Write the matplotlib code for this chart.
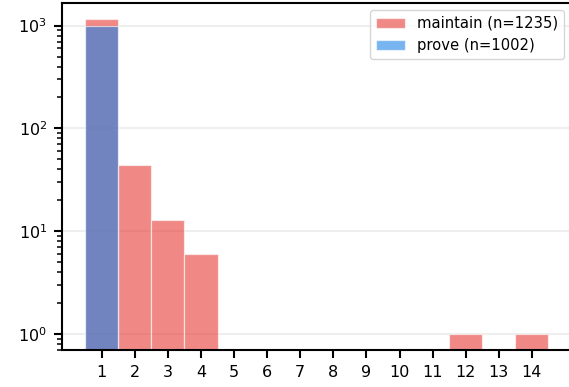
import matplotlib
matplotlib.use("Agg")
import matplotlib.pyplot as plt
import numpy as np

# data
bins_x = [1, 2, 3, 4, 5, 6, 7, 8, 9, 10, 11, 12, 13, 14]
maintain_counts = [1170, 44, 13, 6, 0, 0, 0, 0, 0, 0, 0, 1, 0, 1]
prove_counts = [1002, 0, 0, 0, 0, 0, 0, 0, 0, 0, 0, 0, 0, 0]
maintain_label = "maintain (n=1235)"
prove_label = "prove (n=1002)"

W, H = 569, 387
fig = plt.figure(figsize=(W / 100, H / 100), dpi=100)
ax = fig.add_axes([62 / W, (H - 350) / H, (571.6 - 62) / W, (350 - 3) / H])

edges = np.arange(0.5, 15.5, 1.0)
ax.hist(bins_x, bins=edges, weights=maintain_counts, color="#E63B35", alpha=0.6,
        edgecolor="white", linewidth=0.9, label=maintain_label)
ax.hist(bins_x, bins=edges, weights=prove_counts, color="#1E82E6", alpha=0.6,
        edgecolor="white", linewidth=0.9, label=prove_label)

ax.set_yscale("log")
ax.set_ylim(0.70, 1660)
ax.set_xlim(-0.2, 15.2)
ax.set_xticks(bins_x)
ax.set_xticklabels([str(b) for b in bins_x])

ax.grid(axis="y", which="major", color="#ebebeb", linewidth=1.2)
ax.set_axisbelow(True)
for s in ["left", "bottom", "top"]:
    ax.spines[s].set_linewidth(1.5)
    ax.spines[s].set_color("black")
ax.spines["right"].set_visible(False)
ax.tick_params(axis="both", which="major", length=5.8, width=1.5, labelsize=11.5,
               pad=5, colors="black")
ax.tick_params(axis="y", which="minor", length=3.3, width=1.1)

ax.legend(loc="upper right", bbox_to_anchor=(564 / W, 1 - 10 / H),
          bbox_transform=fig.transFigure, borderaxespad=0, fontsize=10.6,
          framealpha=0.8, edgecolor="#cccccc")

fig.savefig("out.png", dpi=100)
